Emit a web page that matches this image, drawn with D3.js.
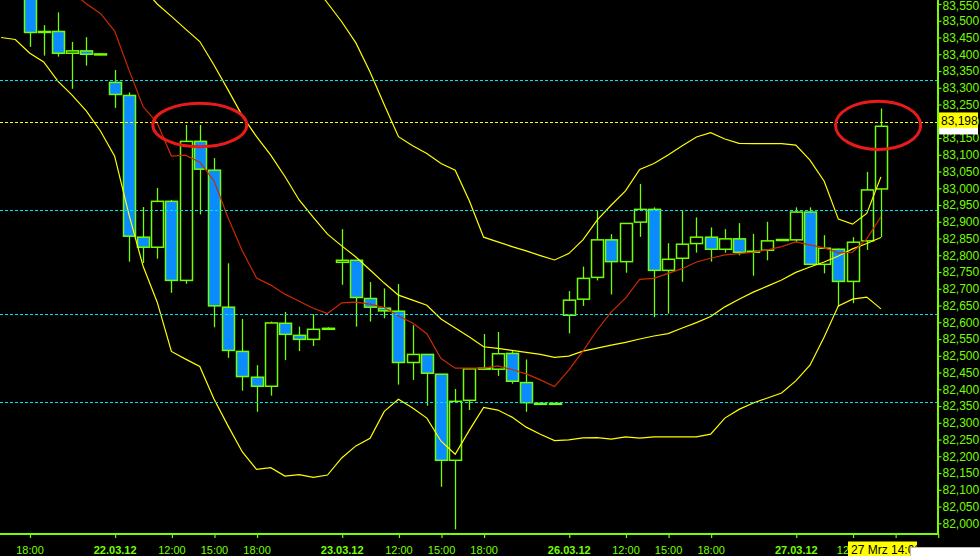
<!DOCTYPE html>
<html><head><meta charset="utf-8">
<script src="https://cdn.jsdelivr.net/npm/d3@7"></script>
<style>html,body{margin:0;padding:0;background:#000;overflow:hidden}svg{display:block}</style>
</head><body><svg id="c" width="980" height="556"></svg>
<script>
// ---- data (hourly bars, index 0 = 21.03 18:00) ----
const openP  = [83.600,83.466,83.468,83.403,83.410,83.401,83.316,83.277,82.854,82.824,82.961,82.725,83.140,83.054,82.645,82.513,82.436,82.409,82.597,82.561,82.549,82.581,82.779,82.785,82.671,82.642,82.633,82.480,82.504,82.445,82.188,82.367,82.461,82.460,82.507,82.420,82.358,82.358,82.621,82.669,82.734,82.846,82.781,82.899,82.937,82.755,82.791,82.835,82.854,82.818,82.849,82.810,82.815,82.845,82.846,82.929,82.773,82.818,82.722,82.843,82.998];
const highP  = [83.620,83.487,83.525,83.437,83.451,83.403,83.353,83.286,82.944,83.001,82.965,83.189,83.189,83.090,82.776,82.610,82.472,82.602,82.631,82.587,82.624,82.585,82.878,82.786,82.720,82.701,82.714,82.591,82.505,82.446,82.401,82.462,82.565,82.571,82.514,82.489,82.360,82.360,82.693,82.766,82.933,82.863,82.896,83.013,82.943,82.836,82.933,82.913,82.883,82.878,82.896,82.864,82.900,82.848,82.943,82.943,82.860,82.820,82.854,83.049,83.238];
const lowP   = [83.422,83.396,83.393,83.297,83.366,83.397,83.240,82.781,82.777,82.790,82.688,82.715,82.922,82.585,82.494,82.396,82.333,82.381,82.487,82.514,82.529,82.578,82.712,82.587,82.602,82.612,82.414,82.428,82.351,82.109,81.982,82.338,82.457,82.440,82.417,82.333,82.355,82.355,82.567,82.649,82.725,82.683,82.748,82.855,82.615,82.626,82.721,82.808,82.781,82.808,82.800,82.739,82.785,82.844,82.840,82.772,82.746,82.646,82.657,82.816,82.854];
const closeP = [83.465,83.468,83.403,83.410,83.400,83.400,83.280,82.857,82.824,82.961,82.725,83.140,83.057,82.649,82.516,82.438,82.409,82.598,82.564,82.549,82.579,82.582,82.785,82.674,82.645,82.634,82.480,82.504,82.448,82.188,82.364,82.461,82.463,82.506,82.424,82.360,82.358,82.358,82.666,82.731,82.846,82.781,82.895,82.937,82.755,82.788,82.833,82.854,82.818,82.849,82.809,82.812,82.843,82.847,82.929,82.773,82.821,82.722,82.839,82.995,83.185];

const lowerBandStart = -2;
const lowerBand = [83.450,83.444,83.404,83.377,83.320,83.278,83.231,83.171,83.096,82.923,82.768,82.660,82.513,82.490,82.468,82.371,82.290,82.213,82.161,82.166,82.141,82.145,82.137,82.144,82.195,82.231,82.254,82.334,82.370,82.344,82.314,82.245,82.206,82.278,82.346,82.338,82.317,82.287,82.266,82.247,82.249,82.255,82.256,82.251,82.258,82.254,82.258,82.258,82.258,82.258,82.266,82.314,82.340,82.359,82.374,82.389,82.425,82.472,82.556,82.649,82.669,82.675,82.640];
const upperBandStart = 19;
const upperBand = [83.666,83.608,83.553,83.497,83.434,83.347,83.249,83.154,83.127,83.104,83.074,83.054,82.962,82.854,82.840,82.826,82.813,82.799,82.786,82.805,82.846,82.905,82.950,82.992,83.056,83.074,83.099,83.127,83.153,83.166,83.147,83.134,83.133,83.133,83.133,83.129,83.084,83.021,82.908,82.893,82.925,83.034];
const innerLineStart = 8;
const innerLine = [83.598,83.550,83.513,83.475,83.438,83.368,83.293,83.216,83.154,83.099,83.035,82.965,82.913,82.863,82.828,82.795,82.756,82.717,82.681,82.666,82.651,82.610,82.583,82.556,82.527,82.522,82.516,82.510,82.504,82.495,82.499,82.514,82.523,82.532,82.540,82.550,82.559,82.566,82.583,82.599,82.617,82.646,82.669,82.690,82.708,82.726,82.749,82.765,82.780,82.798,82.819,82.835,82.853];
const maLineStart = 3;
const maLine = [83.586,83.551,83.522,83.469,83.354,83.244,83.195,83.096,83.099,83.078,83.022,82.911,82.813,82.732,82.711,82.684,82.663,82.642,82.626,82.658,82.660,82.654,82.644,82.619,82.598,82.566,82.492,82.463,82.463,82.463,82.470,82.459,82.446,82.428,82.408,82.457,82.514,82.577,82.631,82.672,82.728,82.731,82.746,82.760,82.780,82.791,82.801,82.805,82.809,82.816,82.826,82.840,82.831,82.822,82.807,82.809,82.849,82.915];

const cyanLevels = [83.322, 82.934, 82.625, 82.361];
const lastPrice = 83.198;

// tick labels; the ones under the cursor/scroll boxes are hidden in the reference
const xTickIdx    = [0,6,10,13,16,22,26,29,32,38,42,45,48,54,58,61,64];
const xTickLabels = ["18:00","22.03.12","12:00","15:00","18:00","23.03.12","12:00","15:00","18:00","26.03.12","12:00","15:00","18:00","27.03.12","12","",""];
const yTicks = d3.range(82000, 83551, 50).map(v => v/1000);

const ellipses = [{i:12, v:83.189, ri:3.31, rv:0.065}, {i:59.8, v:83.188, ri:3.0, rv:0.072}];
const cursorLabel = "27 Mrz 14:00";

// ---- drawing ----
const W = 980, H = 556, plotR = 938, plotB = 533;
const GREEN = "#74ff00", BLUE = "#0a8cff", CYAN = "#00e4f2", YEL = "#ffff00", RED = "#cc2a00";
const FONT = "'Liberation Sans', Arial, sans-serif";
const svg = d3.select("#c");
svg.append("rect").attr("width", W).attr("height", H).attr("fill", "#000");

const x = d3.scaleLinear().domain([0, 64]).range([29.5, 937.7]);
const y = d3.scaleLinear().domain([82.0, 83.55]).range([523.3, 4]);

svg.append("clipPath").attr("id","clip").append("rect").attr("x",0).attr("y",0).attr("width",plotR-1).attr("height",plotB);
const plot = svg.append("g").attr("clip-path","url(#clip)");

const bars = d3.range(openP.length).map(i => ({i, o:openP[i], h:highP[i], l:lowP[i], c:closeP[i]}));
const px = i => Math.round(x(i)) + 0.5;

plot.append("g").selectAll("line").data(bars).join("line")
  .attr("x1", d => px(d.i)).attr("x2", d => px(d.i))
  .attr("y1", d => y(d.h)).attr("y2", d => y(d.l))
  .attr("stroke", GREEN).attr("stroke-width", 1.3);

plot.append("g").selectAll("rect").data(bars).join("rect")
  .attr("x", d => px(d.i) - 6).attr("width", 12)
  .attr("y", d => y(Math.max(d.o, d.c)))
  .attr("height", d => Math.max(1, Math.abs(y(d.o) - y(d.c))))
  .attr("fill", d => d.c < d.o ? BLUE : "#000")
  .attr("stroke", GREEN).attr("stroke-width", 1.5);

function series(start, vals){ return vals.map((v,k) => [start+k, v]); }
const lineGen = d3.line().x(d => x(d[0])).y(d => y(d[1]));
[[lowerBandStart, lowerBand, YEL],[upperBandStart, upperBand, YEL],[innerLineStart, innerLine, YEL],[maLineStart, maLine, RED]]
  .forEach(([s, v, col]) => {
    plot.append("path").datum(series(s, v)).attr("d", lineGen)
      .attr("fill","none").attr("stroke", col).attr("stroke-width", 1.2);
  });

plot.append("g").selectAll("line").data(cyanLevels).join("line")
  .attr("x1", 0).attr("x2", plotR).attr("y1", d => Math.round(y(d))+0.5).attr("y2", d => Math.round(y(d))+0.5)
  .attr("stroke", CYAN).attr("stroke-width", 1).attr("stroke-dasharray", "3,2");
plot.append("line").attr("x1",0).attr("x2",plotR)
  .attr("y1", Math.round(y(lastPrice))+0.5).attr("y2", Math.round(y(lastPrice))+0.5)
  .attr("stroke", YEL).attr("stroke-width", 1).attr("stroke-dasharray", "3,2");

svg.append("g").selectAll("ellipse").data(ellipses).join("ellipse")
  .attr("cx", d => x(d.i)).attr("cy", d => y(d.v))
  .attr("rx", d => x(d.ri) - x(0)).attr("ry", d => y(0) - y(d.rv) )
  .attr("fill","none").attr("stroke","#e81a1a").attr("stroke-width", 3);

// axes
const fmt = v => v.toFixed(3).replace(".", ",");
const yAxis = svg.append("g").attr("transform", `translate(${plotR-0.5},0)`)
  .call(d3.axisRight(y).tickValues(yTicks).tickSize(4).tickPadding(1).tickFormat(fmt));
yAxis.select(".domain").remove();
yAxis.selectAll("line").attr("stroke", GREEN).attr("stroke-width", 1.2);
yAxis.selectAll("text").attr("fill", GREEN).attr("font-family", FONT).attr("font-size", 12)
  .attr("dy", d => d >= 83.55 ? "0.42em" : "0.32em");

const xAxis = svg.append("g").attr("transform", `translate(0,${plotB+1})`)
  .call(d3.axisBottom(x).tickValues(xTickIdx).tickSize(4).tickPadding(8).tickFormat((d,k) => xTickLabels[k]));
xAxis.select(".domain").remove();
xAxis.selectAll("line").attr("stroke", GREEN).attr("stroke-width", 1.2).attr("transform","translate(0.5,0)");
xAxis.selectAll("text").attr("fill", GREEN).attr("font-family", FONT).attr("font-size", 11)
  .attr("font-weight", (d,k) => xTickLabels[k].includes(".") ? "bold" : "normal")
  .filter((d,k) => xTickLabels[k] === "12").attr("text-anchor","end").attr("x", -4);

svg.append("line").attr("x1", plotR).attr("x2", plotR).attr("y1", 0).attr("y2", plotB+2)
  .attr("stroke", GREEN).attr("stroke-width", 2);
svg.append("line").attr("x1", 0).attr("x2", plotR+1).attr("y1", plotB+1).attr("y2", plotB+1)
  .attr("stroke", GREEN).attr("stroke-width", 2);

// price label
const ly = y(lastPrice);
svg.append("rect").attr("x", plotR+1).attr("y", ly-1).attr("width", 39).attr("height", 13.5).attr("fill","#fff");
svg.append("rect").attr("x", plotR+1).attr("y", ly-9.5).attr("width", 39).attr("height", 15.5).attr("fill", YEL);
svg.append("text").attr("x", plotR+3).attr("y", ly+3).text(fmt(lastPrice))
  .attr("font-family", FONT).attr("font-size", 12).attr("fill","#000");

// cursor label at bottom
svg.append("rect").attr("x", 848).attr("y", 541.5).attr("width", 69).attr("height", 15).attr("fill", YEL);
svg.append("text").attr("x", 851).attr("y", 554).text(cursorLabel)
  .attr("font-family", FONT).attr("font-size", 12).attr("fill","#000");
svg.append("rect").attr("x", 910.5).attr("y", 547.5).attr("width", 70).attr("height", 9).attr("fill","#fff")
  .attr("stroke","#bbb").attr("stroke-width",1);
</script></body></html>
